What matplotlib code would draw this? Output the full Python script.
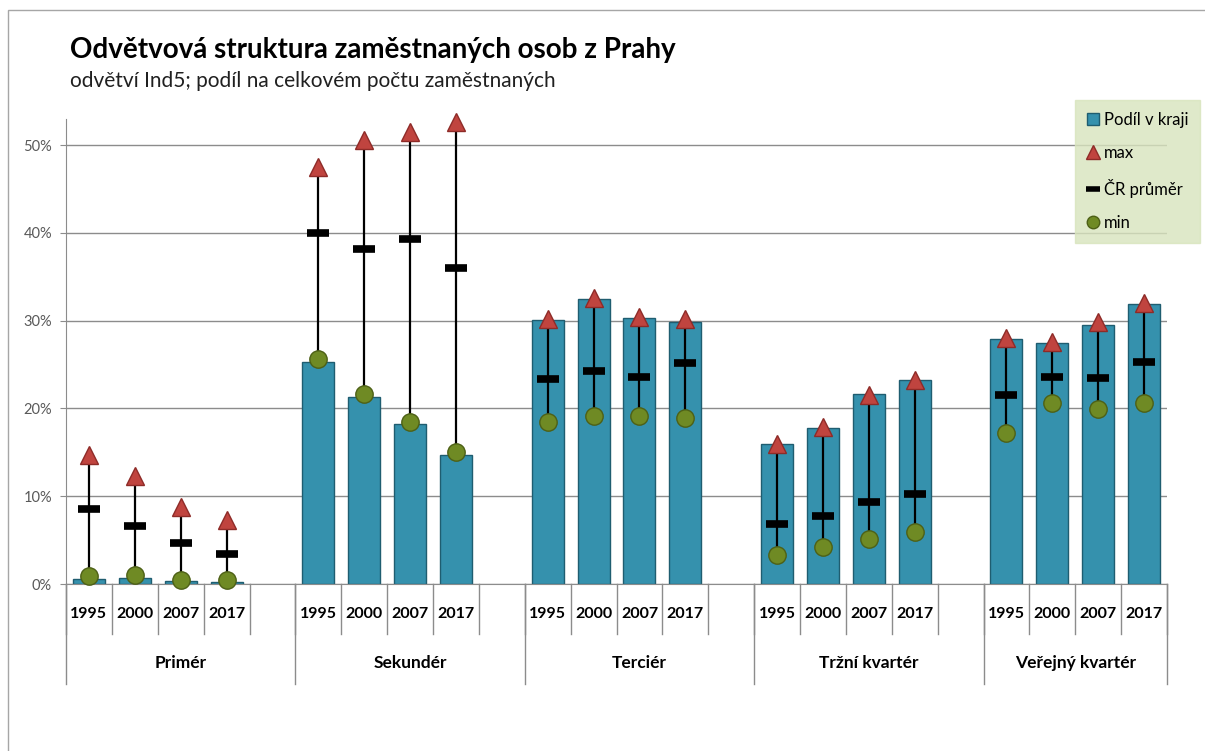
import matplotlib
matplotlib.use("Agg")
import matplotlib.pyplot as plt
from matplotlib.lines import Line2D
from matplotlib.patches import Rectangle
import numpy as np

plt.rcParams['font.family'] = ['Lato', 'DejaVu Sans']

# data (%), one value per year in each group
groups = ["Primér", "Sekundér", "Terciér", "Tržní kvartér", "Veřejný kvartér"]
years = ["1995", "2000", "2007", "2017"]

podil = [0.6, 0.7, 0.3, 0.2,
         25.3, 21.3, 18.2, 14.7,
         30.1, 32.5, 30.3, 29.9,
         16.0, 17.8, 21.6, 23.2,
         27.9, 27.4, 29.5, 31.9]
maxima = [14.7, 12.3, 8.8, 7.3,
          47.5, 50.6, 51.5, 52.6,
          30.2, 32.6, 30.4, 30.2,
          15.9, 17.9, 21.5, 23.2,
          28.0, 27.6, 29.8, 32.0]
prumer = [8.5, 6.6, 4.7, 3.4,
          40.0, 38.2, 39.3, 36.0,
          23.3, 24.3, 23.6, 25.2,
          6.8, 7.7, 9.3, 10.2,
          21.5, 23.6, 23.5, 25.3]
minima = [0.9, 1.0, 0.5, 0.5,
          25.6, 21.6, 18.5, 15.0,
          18.5, 19.1, 19.1, 18.9,
          3.3, 4.2, 5.1, 5.9,
          17.2, 20.6, 19.9, 20.6]

# slot positions: 4 years + one empty slot per group (last group without)
x = np.array([g * 5 + j for g in range(len(groups)) for j in range(len(years))])
n_slots = len(groups) * 5 - 1

fig = plt.figure(figsize=(12.05, 7.51), dpi=100)
ax = fig.add_axes([66 / 1205, 1 - 584 / 751, (1167 - 66) / 1205, (584 - 118.7) / 751])

ax.set_xlim(-0.5, n_slots - 0.5)
ax.set_ylim(0, 53)

ax.bar(x, podil, width=0.7, color="#3591ad", edgecolor="#1f5d70", linewidth=1.0, zorder=2)
ax.vlines(x, minima, maxima, color="black", linewidth=1.6, zorder=3)
ax.plot(x, prumer, ls="none", marker="_", ms=16, mew=5.5, color="black", zorder=4)
ax.plot(x, minima, ls="none", marker="o", ms=12.5, mfc="#6f8a24", mec="#4d6016", mew=1, zorder=5, clip_on=False)
ax.plot(x, maxima, ls="none", marker="^", ms=13, mfc="#c0443f", mec="#8e2b28", mew=1, zorder=5, clip_on=False)

# osa y
ax.set_yticks([0, 10, 20, 30, 40, 50])
ax.set_yticklabels([f"{v}%" for v in [0, 10, 20, 30, 40, 50]], fontsize=10.5, color="#595959")
ax.yaxis.grid(True, color="#8c8c8c", linewidth=1)
ax.set_axisbelow(True)
ax.tick_params(axis="y", length=4, color="#8c8c8c", pad=6)
ax.tick_params(axis="x", length=0, labelbottom=False)
for s in ["top", "right"]:
    ax.spines[s].set_visible(False)
ax.spines["left"].set_color("#8c8c8c")
ax.spines["bottom"].set_color("#8c8c8c")

# popisky osy x (roky + skupiny)
for xi, yr in zip(x, years * len(groups)):
    ax.text(xi, -30 / 8.78, yr, ha="center", va="center", fontsize=11.5, fontweight="bold", clip_on=False)
for b in np.arange(-0.5, n_slots, 1.0):
    ax.plot([b, b], [0, -50 / 8.78], color="#8c8c8c", lw=1, clip_on=False)
for b in [-0.5, 4.5, 9.5, 14.5, 19.5, n_slots - 0.5]:
    ax.plot([b, b], [0, -100 / 8.78], color="#8c8c8c", lw=1, clip_on=False)
for g, name in enumerate(groups):
    c = g * 5 + 2 if g < len(groups) - 1 else g * 5 + 1.5
    ax.text(c, -79 / 8.78, name, ha="center", va="center", fontsize=12.5, fontweight="bold", clip_on=False)

# titulky
fig.text(70 / 1205, 1 - 50 / 751, "Odvětvová struktura zaměstnaných osob z Prahy",
         fontsize=20, fontweight="bold", va="center")
fig.text(70 / 1205, 1 - 81 / 751, "odvětví Ind5; podíl na celkovém počtu zaměstnaných",
         fontsize=15, va="center", color="#202020")

# legenda
handles = [
    Line2D([], [], ls="none", marker="s", ms=8, mfc="#3591ad", mec="#1f5d70"),
    Line2D([], [], ls="none", marker="^", ms=10, mfc="#c0443f", mec="#8e2b28"),
    Line2D([], [], ls="none", marker="_", ms=10, mew=4, color="black"),
    Line2D([], [], ls="none", marker="o", ms=9, mfc="#6f8a24", mec="#4d6016"),
]
leg = fig.legend(handles, ["Podíl v kraji", "max", "ČR průměr", "min"],
                 loc="upper left", bbox_to_anchor=(1075 / 1205, 1 - 100 / 751),
                 fontsize=12, frameon=True, fancybox=False, handlelength=0.7,
                 handletextpad=0.35, labelspacing=1.05, borderpad=0.7, borderaxespad=0)
leg.get_frame().set_facecolor("#d8e4bd")
leg.get_frame().set_edgecolor("#d8e4bd")

# rámeček grafu
fig.add_artist(Rectangle((8 / 1205, -0.1), 2, 1.1 - 10 / 751, transform=fig.transFigure,
                         fill=False, edgecolor="#a6a6a6", lw=1))

fig.savefig("out.png", dpi=100)
